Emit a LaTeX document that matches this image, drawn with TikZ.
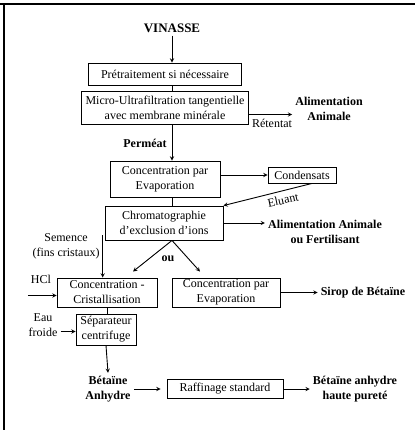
\documentclass[tikz,border=0pt]{standalone}
\usepackage{fontspec}
\setmainfont{Liberation Serif}
\usetikzlibrary{arrows}
\newcommand{\txt}{\fontsize{12}{15}\selectfont}
\newcommand{\axe}{172}

\begin{document}
\begin{tikzpicture}[
      x=1pt, y=-1pt, %one unit = one pixel of the scan
      >=stealth,
      frame/.style={line width=2pt},
      box/.style={draw, line width=0.9pt, align=center, inner sep=2pt, font=\txt},
      flow/.style={line width=0.9pt},
      product/.style={align=center, inner sep=3pt, font=\txt\bfseries},
      input/.style={align=center, inner sep=3pt, font=\txt}
    ]
    \useasboundingbox (0,0) rectangle (415,430);
    %frame of the page
    \draw[frame] (0,4) -- (415,4);
    \draw[frame] (4,4) -- (4,430);
    %main column
    \node[product, font=\fontsize{13}{15}\selectfont\bfseries] (vin) at (\axe,28) {VINASSE};
    \node[box, minimum width=153pt, minimum height=22pt] (pre) at (165,74) {Prétraitement si nécessaire};
    \node[box, minimum width=167pt, minimum height=33pt] (micro) at (165,107.5) {Micro-Ultrafiltration tangentielle\\avec membrane minérale};
    \node[box, minimum width=110pt, minimum height=36pt] (evap) at (165,179) {Concentration par\\Evaporation};
    \node[box, minimum width=68pt, minimum height=16pt, inner sep=1pt] (cond) at (302,175) {Condensats};
    \node[box, minimum width=118pt, minimum height=34pt] (chrom) at (164,223) {Chromatographie\\d'exclusion d'ions};
    \node[box, minimum width=100pt, minimum height=29pt, inner sep=1pt] (crist) at (107,292.5) {Concentration -\\Cristallisation};
    \node[box, minimum width=108pt, minimum height=29pt, inner sep=1pt] (evap2) at (226,292.5) {Concentration par\\Evaporation};
    \node[box, minimum width=60pt, minimum height=31pt, inner sep=1pt] (sep) at (106,329.5) {Séparateur\\centrifuge};
    \node[box, minimum width=116pt, minimum height=19pt] (raff) at (225,389) {Raffinage standard};
    %inputs and products
    \node[product] (alim1) at (329,109) {Alimentation\\Animale};
    \node[input] (ret) at (272,123) {Rétentat};
    \node[product] (perm) at (145,143) {Perméat};
    \node[input, rotate=12] (elu) at (283,200) {Eluant};
    \node[product] (alim2) at (325,232) {Alimentation Animale\\ou Fertilisant};
    \node[input] (sem) at (66,246) {Semence\\(fins cristaux)};
    \node[product] (ou) at (168,259) {ou};
    \node[input] (hcl) at (41,279) {HCl};
    \node[product] (sirop) at (363,293) {Sirop de Bétaïne};
    \node[input] (eau) at (43,325) {Eau\\froide};
    \node[product] (bet) at (108,389) {Bétaïne\\Anhydre};
    \node[product] (pur) at (355,389) {Bétaïne anhydre\\haute pureté};
    %connectors
    \draw[flow,->] (vin.south) -- (vin.south |- pre.north);
    \draw[flow] (pre.south -| vin) -- (micro.north -| vin);
    \draw[flow,->] ([yshift=-7pt]micro.east) -- ([yshift=-7pt]micro.east -| alim1.west);
    \draw[flow,->] (micro.south -| vin) -- (evap.north -| vin);
    \draw[flow,->] (evap.east |- cond.west) -- (cond.west);
    \draw[flow,->] ([xshift=10pt]cond.south) -- (chrom.north east);
    \draw[flow] (evap.south -| vin) -- (chrom.north -| vin);
    \draw[flow,->] (chrom.east) -- (alim2.west |- chrom.east);
    \draw[flow,->] (chrom.south -| vin) -- ([xshift=26pt,yshift=6pt]crist.north);
    \draw[flow,->] (chrom.south -| vin) -- ([xshift=-26pt,yshift=6pt]evap2.north);
    \draw[flow,->] ([yshift=-5pt]sem.north east) -- (sem.north east |- crist.north);
    \draw[flow,->] (evap2.east) -- (sirop.west |- evap2.east);
    \draw[flow,->] ([yshift=-3pt]crist.west -| hcl.west) -- ([yshift=-3pt]crist.west);
    \draw[flow] (crist.south) -- (sep.north -| crist.south);
    \draw[flow,->] ([yshift=-2pt]sep.west -| eau.east) -- ([yshift=-2pt]sep.west);
    \draw[flow,->] (sep.south) -- (bet.north);
    \draw[flow,->,shorten >=6pt] (bet.east) -- (raff.west);
    \draw[flow,->] (raff.east) -- (pur.west);
\end{tikzpicture}
\end{document}
